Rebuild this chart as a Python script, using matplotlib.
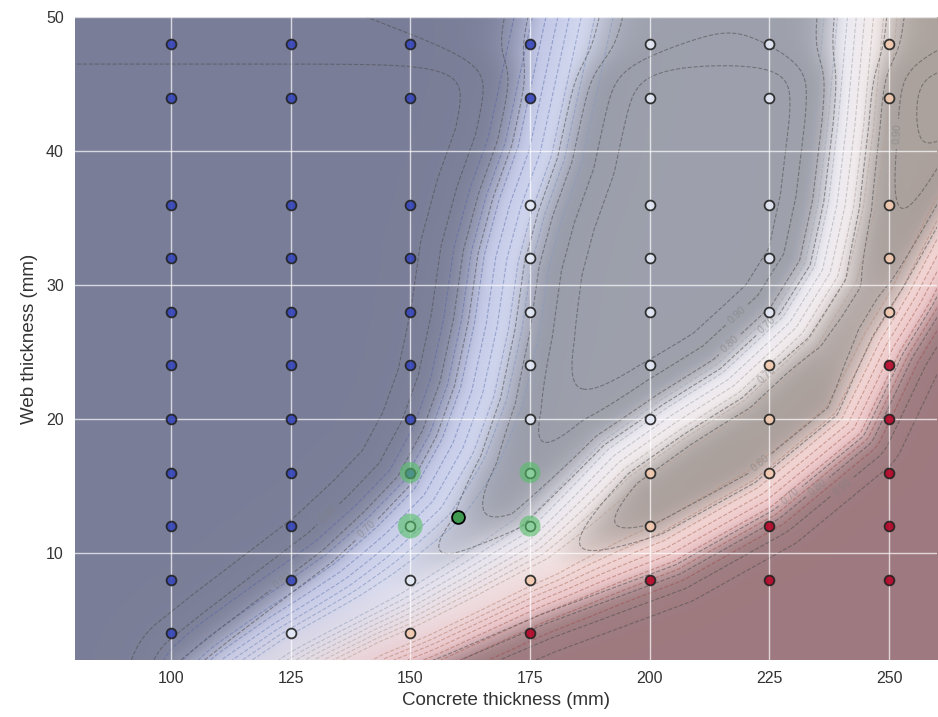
import numpy as np
import matplotlib.pyplot as plt
from matplotlib import cm
from matplotlib.colors import to_rgb

plt.rcParams['font.family'] = ['Liberation Sans', 'DejaVu Sans']

# design grid that was evaluated
concrete = [100, 125, 150, 175, 200, 225, 250]
web = [4, 8, 12, 16, 20, 24, 28, 32, 36, 44, 48]
# failure class per concrete thickness, web thickness ascending (None = not run)
classes = {
    100: [0, 0, 0, 0, 0, 0, 0, 0, 0, 0, 0],
    125: [1, 0, 0, 0, 0, 0, 0, 0, 0, 0, 0],
    150: [2, 1, 1, 0, 0, 0, 0, 0, 0, 0, 0],
    175: [3, 2, 1, 1, 1, 1, 1, 1, 1, 0, 0],
    200: [None, 3, 2, 2, 1, 1, 1, 1, 1, 1, 1],
    225: [None, 3, 3, 2, 2, 2, 1, 1, 1, 1, 1],
    250: [None, 3, 3, 3, 3, 3, 2, 2, 2, 2, 2],
}
class_colors = ['#3545b8', '#e4e9f6', '#f2c8ad', '#b40426']
bg_colors = ['#24349c', '#b4c2f0', '#f0cbb5', '#b8243a']

# candidate designs and proposed optimum
sel_x = [150, 150, 175, 175]
sel_y = [16, 12, 16, 12]
sel_size = [230, 320, 230, 230]
best_x, best_y = 160, 12.7

# class boundaries (centre of the low-confidence bands)
b1_x = [108, 115, 126, 137, 146, 154, 160, 164, 167, 169, 172, 176, 179, 182, 185]
b1_y = [0, 2, 5, 8, 11, 14, 18, 22, 27, 32, 36, 40, 45, 50, 55]
b2_x = [115, 125, 140, 150, 162, 176, 193, 205, 217, 230, 237, 240, 242, 244, 246]
b2_y = [0, 2, 4, 5.5, 7.8, 10.7, 17, 20, 22.7, 27, 31, 36, 42, 50, 55]
b3_x = [135, 145, 155, 176, 204, 224, 242, 250, 256, 262, 268]
b3_y = [0, 2, 3.3, 6.5, 10.2, 14.2, 19.5, 25.5, 29, 33, 37]
widths = [28, 21, 19]
# confidence drops above the sampled web range
top_support = 46.5

# pixel scale of the axes (x, y) so distances are isotropic on screen
sx, sy = 4.807, 13.4

xg = np.linspace(80, 260, 600)
yg = np.linspace(2, 50, 480)
X, Y = np.meshgrid(xg, yg)


def seg_dist(bx, by):
    px, py = X * sx, Y * sy
    d = np.full(X.shape, np.inf)
    for i in range(len(bx) - 1):
        ax_, ay_ = bx[i] * sx, by[i] * sy
        bx_, by_ = bx[i + 1] * sx, by[i + 1] * sy
        vx, vy = bx_ - ax_, by_ - ay_
        t = np.clip(((px - ax_) * vx + (py - ay_) * vy) / (vx * vx + vy * vy), 0, 1)
        d = np.minimum(d, np.hypot(px - ax_ - t * vx, py - ay_ - t * vy))
    return d


d1 = seg_dist(b1_x, b1_y) * np.where(X > np.interp(Y, b1_y, b1_x), 1, -1)
d2 = seg_dist(b2_x, b2_y) * np.where(Y < np.interp(X, b2_x, b2_y), 1, -1)
d3 = seg_dist(b3_x, b3_y) * np.where(Y < np.interp(X, b3_x, b3_y), 1, -1)
s1, s2, s3 = [1 / (1 + np.exp(-d / w)) for d, w in zip([d1, d2, d3], widths)]
probs = np.clip(np.stack([1 - s1, s1 - s2, s2 - s3, s3]), 0, None)
probs /= probs.sum(axis=0)
fade = 1 - 0.1 / (1 + np.exp(-(Y - top_support) * sy / 10))
conf = probs.max(axis=0) * fade
expected = probs[1] + 2 * probs[2] + 3 * probs[3]

base = np.tensordot(probs, np.array([to_rgb(c) for c in bg_colors]), axes=(0, 0))
tint = 1 - 0.36 * (1 - base)
t = np.clip((conf - 0.57) / 0.33, 0, 1)
dark = 0.31 * t * t * (3 - 2 * t)
rgb = tint * (1 - dark[..., None])

fig = plt.figure(figsize=(9.38, 7.17), dpi=100)
ax = fig.add_axes([0.080, 0.0795, 0.919, 0.8965])
ax.imshow(rgb, extent=[80, 260, 2, 50], origin='lower', aspect='auto',
          interpolation='bilinear', zorder=0)

e_levels = np.concatenate([k + np.arange(0.15, 0.9, 0.1) for k in range(3)])
e_colors = [0.55 * np.array(cm.coolwarm(lv / 3)[:3]) + 0.45 * 0.45 for lv in e_levels]
ax.contour(X, Y, expected, levels=e_levels, colors=e_colors, linestyles='--',
           linewidths=0.8, alpha=0.6, zorder=1)
cs = ax.contour(X, Y, conf, levels=[0.7, 0.8, 0.9, 0.95],
                colors='0.3', linestyles='--', linewidths=0.8, alpha=0.55, zorder=1)
labels = ax.clabel(cs, levels=[0.7, 0.8, 0.9], fmt='%.2f', fontsize=7.5, colors='0.5')
for txt in labels:
    lx, ly = txt.get_position()
    if lx > 254 or lx < 85 or ly > 48 or ly < 3.5:
        txt.set_visible(False)

for spine in ax.spines.values():
    spine.set_visible(False)
ax.grid(True, color='white', linewidth=1.0, alpha=0.7, zorder=1.5)
ax.set_axisbelow(False)

for cx in concrete:
    for wy, k in zip(web, classes[cx]):
        if k is None:
            continue
        ax.scatter(cx, wy, s=50, color=class_colors[k], edgecolors='#222222',
                   linewidths=1.3, alpha=0.9, zorder=3)

ax.scatter(sel_x, sel_y, s=sel_size, color='#55c068', alpha=0.6,
           edgecolors='none', zorder=4)
ax.scatter(best_x, best_y, s=85, color='#3f9a4f', edgecolors='black',
           linewidths=1.3, zorder=5)

ax.set_xlim(80, 260)
ax.set_ylim(2, 50)
ax.set_xticks([100, 125, 150, 175, 200, 225, 250])
ax.set_yticks([10, 20, 30, 40, 50])
ax.tick_params(length=0, labelsize=11.5, colors='#333333', pad=8)
ax.set_xlabel('Concrete thickness (mm)', fontsize=13.5, color='#333333', labelpad=4)
ax.set_ylabel('Web thickness (mm)', fontsize=13.5, color='#333333', labelpad=6)

fig.savefig('out.png', dpi=100)
